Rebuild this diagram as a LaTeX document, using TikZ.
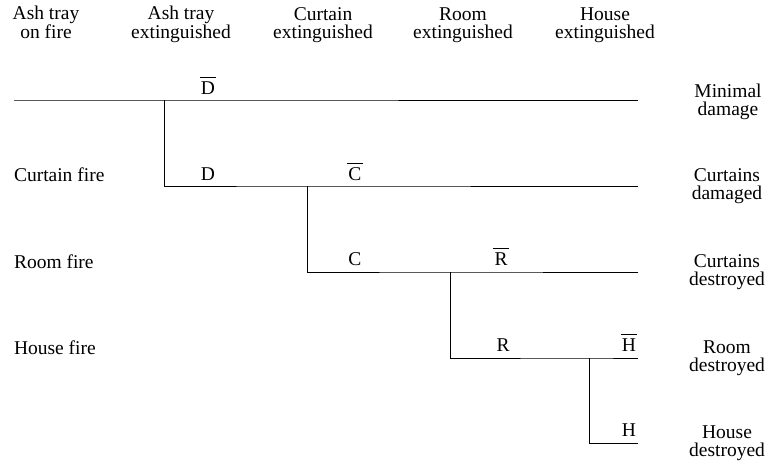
\documentclass[tikz,border=0pt]{standalone}
\usepackage{fontspec}
\setmainfont{Liberation Serif}
\begin{document}
\begin{tikzpicture}[x=1pt,y=-1pt,
  every node/.style={inner sep=0pt,outer sep=0pt},
  txt/.style={font=\fontsize{19.5}{17.5}\selectfont,align=center,anchor=base},
  lbl/.style={font=\fontsize{19.5}{17.5}\selectfont,anchor=base},
  branch/.style={line width=0.9pt,line cap=rect}]
\useasboundingbox (0,0) rectangle (769,466);
% complement of an event: letter with a bar set a little above it
\newcommand{\negev}[1]{$\overline{\mkern1mu\hbox{\rule{0pt}{15pt}#1}\mkern1mu}$}

% column headings (placed by the baseline of their second line)
\node[txt] (h1) at (46,38) {Ash tray\\on fire};
\node[txt] (h2) at (181,38) {Ash tray\\extinguished};
\node[txt] (h3) at (323,38) {Curtain\\extinguished};
\node[txt] (h4) at (463,38) {Room\\extinguished};
\node[txt] (h5) at (605,38) {House\\extinguished};

% outcomes
\node[txt] (o1) at (728,115) {Minimal\\damage};
\node[txt] (o2) at (727,199) {Curtains\\damaged};
\node[txt] (o3) at (727,285) {Curtains\\destroyed};
\node[txt] (o4) at (727,371) {Room\\destroyed};
\node[txt] (o5) at (727,456) {House\\destroyed};

% initiating events along the left
\node[lbl,anchor=base west] (f2) at (14,181) {Curtain fire};
\node[lbl,anchor=base west] (f3) at (14,268) {Room fire};
\node[lbl,anchor=base west] (f4) at (14,354) {House fire};

% tree points
\coordinate (s) at (14,100);
\coordinate (b1) at (164,100);
\coordinate (k1) at (164,186);
\coordinate (b2) at (307,186);
\coordinate (k2) at (307,272);
\coordinate (b3) at (450,272);
\coordinate (k3) at (450,358);
\coordinate (b4) at (589,358);
\coordinate (k4) at (589,443);
\coordinate (e1) at (638,100);
\coordinate (e2) at (638,186);
\coordinate (e3) at (638,272);
\coordinate (e4) at (638,358);
\coordinate (e5) at (638,443);

\draw[branch] (s) -- (b1) -- (e1);
\draw[branch] (b1) -- (k1) -- (b2) -- (e2);
\draw[branch] (b2) -- (k2) -- (b3) -- (e3);
\draw[branch] (b3) -- (k3) -- (b4) -- (e4);
\draw[branch] (b4) -- (k4) -- (e5);

% branch labels
\node[lbl] (dn) at (208,94) {\negev{D}};
\node[lbl] (dy) at (208,180) {D};
\node[lbl] (cn) at (355,180) {\negev{C}};
\node[lbl] (cy) at (355,265) {C};
\node[lbl] (rn) at (501,265) {\negev{R}};
\node[lbl] (ry) at (503,351) {R};
\node[lbl] (hn) at (629,351) {\negev{H}};
\node[lbl] (hy) at (629,436) {H};
\end{tikzpicture}
\end{document}
